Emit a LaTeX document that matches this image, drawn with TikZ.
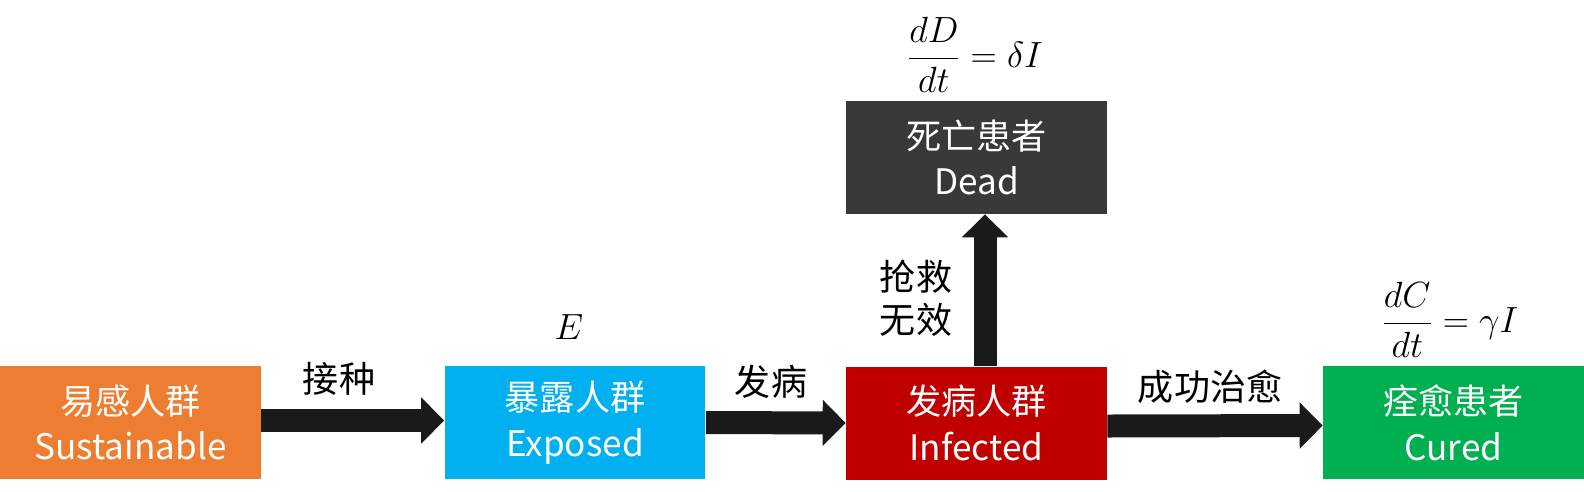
\documentclass[tikz,border=0pt]{standalone}
\usepackage{fontspec}
\setmainfont{Noto Sans CJK SC}
\usetikzlibrary{arrows.meta}
\definecolor{susorange}{HTML}{ED7D31}
\definecolor{expblue}{HTML}{00B0F0}
\definecolor{infred}{HTML}{C00000}
\definecolor{deadgray}{HTML}{3B3838}
\definecolor{curegreen}{HTML}{00B050}
\definecolor{flowblack}{HTML}{1A1A1A}
\tikzset{
  popbox/.style={minimum width=5.22cm, minimum height=2.26cm, inner sep=0pt, text=white, align=center, font=\fontsize{20}{26}\selectfont},
  flowarrow/.style={draw=flowblack, line width=0.46cm, -{Triangle[length=0.46cm, width=0.9cm, fill=flowblack]}},
  lbl/.style={font=\fontsize{20.5}{24.5}\selectfont, align=center},
  eqn/.style={font=\fontsize{21}{24}\selectfont},
}
\begin{document}
\begin{tikzpicture}[x=0.02cm, y=-0.02cm]
  \useasboundingbox (0,0) rectangle (1584,491);
  % 1. 五类人群
  \node[popbox, fill=susorange] (sus) at (130.5, 422.5) {易感人群\\Sustainable};
  \node[popbox, fill=expblue]   (exp) at (575, 422.5)   {暴露人群\\Exposed};
  \node[popbox, fill=infred]    (inf) at (976.5, 423)   {发病人群\\Infected};
  \node[popbox, fill=deadgray]  (dead) at (976.5, 157.5) {死亡患者\\Dead};
  \node[popbox, fill=curegreen] (cure) at (1453.5, 422.5) {痊愈患者\\Cured};

  % 2. 转移箭头
  \draw[flowarrow] ([yshift=0.04cm]sus.east) -- ([yshift=0.04cm]exp.west);
  \draw[flowarrow] (exp.east) -- (inf.west);
  \draw[flowarrow] ([yshift=-0.06cm]inf.east) -- ([yshift=-0.06cm]cure.west);
  \draw[flowarrow] ([xshift=0.17cm]inf.north) -- ([xshift=0.17cm]dead.south);

  % 3. 箭头说明
  \node[lbl] (vacc) at (339, 379) {接种};
  \node[lbl] (onset) at (771, 382) {发病};
  \node[lbl] (heal) at (1210, 387) {成功治愈};
  \node[lbl] (fail) at (916, 298) {抢救\\无效};

  % 4. 方程
  \node[eqn] (eqE) at (569, 327) {$E$};
  \node[eqn] (eqD) at (975, 55) {$\displaystyle\frac{dD}{dt}=\delta I$};
  \node[eqn] (eqC) at (1450, 320) {$\displaystyle\frac{dC}{dt}=\gamma I$};
\end{tikzpicture}
\end{document}
